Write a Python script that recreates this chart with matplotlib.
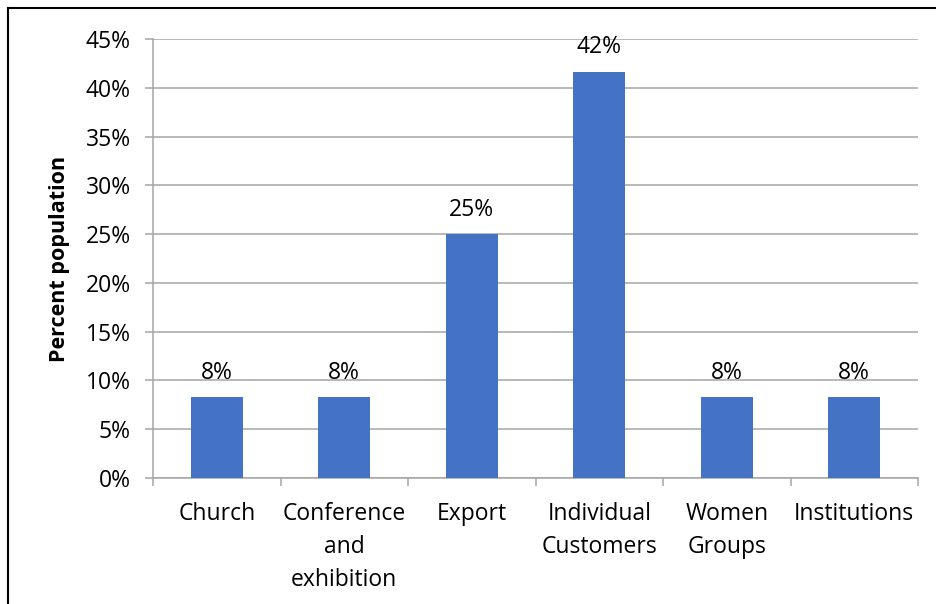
import matplotlib
matplotlib.use("Agg")
import matplotlib.pyplot as plt
from matplotlib.lines import Line2D
from matplotlib.ticker import FuncFormatter, FixedLocator
import numpy as np

plt.rcParams['font.family'] = ['Open Sans', 'DejaVu Sans']

categories = ["Church", "Conference\nand\nexhibition", "Export",
              "Individual\nCustomers", "Women\nGroups", "Institutions"]
shares = [1 / 12, 1 / 12, 3 / 12, 5 / 12, 1 / 12, 1 / 12]
y_ticks = [0, 0.05, 0.10, 0.15, 0.20, 0.25, 0.30, 0.35, 0.40, 0.45]

bar_color = "#4472C4"
grid_color = "#a6a6a6"
fs = 16.5

fig = plt.figure(figsize=(9.36, 6.04), dpi=100)
ax = fig.add_axes([153 / 936, 1 - 478 / 604, (918 - 153) / 936, (478 - 39) / 604])

x = np.arange(len(categories))
bars = ax.bar(x, shares, width=0.41, color=bar_color, zorder=3)

for b, v in zip(bars, shares):
    ax.text(b.get_x() + b.get_width() / 2, v + 0.0125, f"{v:.0%}",
            ha="center", va="bottom", fontsize=fs, color="black")

ax.set_xlim(-0.5, len(categories) - 0.5)
ax.set_ylim(0, 0.45)
ax.set_yticks(y_ticks)
ax.yaxis.set_major_formatter(FuncFormatter(lambda v, p: f"{round(v * 100)}%"))
ax.yaxis.grid(True, color=grid_color, linewidth=1.1, zorder=0)

# labels at category centres, tick marks at the boundaries
ax.set_xticks(x)
ax.set_xticklabels(categories, linespacing=1.5, va="top")
ax.xaxis.set_minor_locator(FixedLocator(np.arange(-0.5, len(categories), 1)))
ax.tick_params(axis="x", which="major", length=0, pad=17, labelsize=fs)
ax.tick_params(axis="x", which="minor", length=6, color=grid_color, width=1.1)
ax.tick_params(axis="y", length=6, color=grid_color, width=1.1, pad=10, labelsize=fs)

for side in ["top", "right"]:
    ax.spines[side].set_visible(False)
for side in ["left", "bottom"]:
    ax.spines[side].set_color(grid_color)
    ax.spines[side].set_linewidth(1.1)

ax.set_ylabel("Percent population", fontsize=fs - 1, fontweight="bold", labelpad=11)

# chart frame
fig.add_artist(Line2D([8 / 936, 1], [1 - 8 / 604, 1 - 8 / 604], color="black", linewidth=1.5))
fig.add_artist(Line2D([8 / 936, 8 / 936], [0, 1 - 8 / 604], color="black", linewidth=1.5))

fig.savefig("out.png", dpi=100)
